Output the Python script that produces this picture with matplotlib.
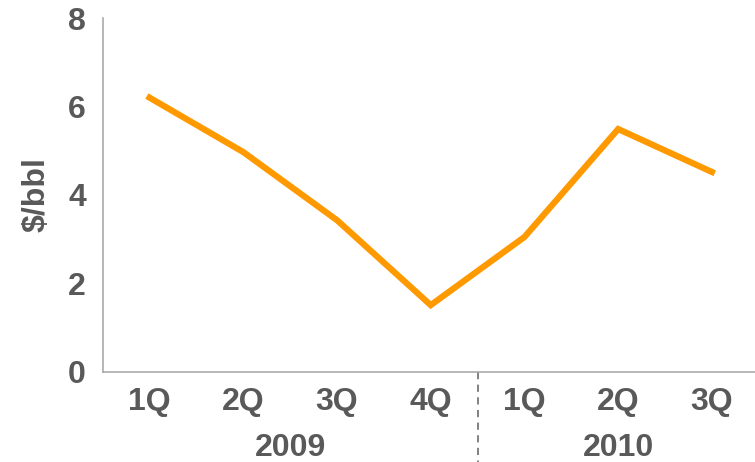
import numpy as np
import matplotlib.pyplot as plt
import matplotlib.transforms as mtransforms

# datos
trimestres = ['1Q', '2Q', '3Q', '4Q', '1Q', '2Q', '3Q']
valores = [6.2, 4.97, 3.43, 1.51, 3.05, 5.49, 4.52]
anios = ['2009', '2010']
anios_pos = [1.5, 5.0]
separador = 3.5

GRIS = '#595959'
NARANJA = '#FF9900'
TAM = 23

plt.rcParams['font.family'] = ['Liberation Sans', 'DejaVu Sans']
plt.rcParams['font.weight'] = 'bold'

fig = plt.figure(figsize=(7.55, 4.62), dpi=100)
ax = fig.add_axes([0.136, 0.195, 0.869, 0.766])

x = np.arange(len(trimestres))
ax.plot(x, valores, color=NARANJA, lw=4.5, solid_joinstyle='miter')

ax.set_xlim(-0.5, 6.5)
ax.set_ylim(0, 8)
ax.set_yticks([0, 2, 4, 6, 8])
ax.set_xticks(x)
ax.set_xticklabels(trimestres)
ax.tick_params(length=0, labelsize=TAM, labelcolor=GRIS, pad=11)
ax.tick_params(axis='y', pad=12)
for lab in ax.get_xticklabels() + ax.get_yticklabels():
    lab.set_fontweight('bold')

for s in ['top', 'right']:
    ax.spines[s].set_visible(False)
for s in ['left', 'bottom']:
    ax.spines[s].set_color('#aaaaaa')
    ax.spines[s].set_linewidth(1.2)

ax.set_ylabel('$/bbl', fontsize=TAM, color=GRIS, fontweight='bold', labelpad=12)

trans = mtransforms.blended_transform_factory(ax.transData, ax.transAxes)
ax.plot([separador, separador], [0, -0.26], transform=trans, clip_on=False,
        color='#777777', lw=1.3, ls=(0, (4, 3)))
for pos, a in zip(anios_pos, anios):
    ax.text(pos, -0.215, a, transform=trans, ha='center', va='center',
            fontsize=TAM, color=GRIS, fontweight='bold')

fig.savefig('out.png', dpi=100)
